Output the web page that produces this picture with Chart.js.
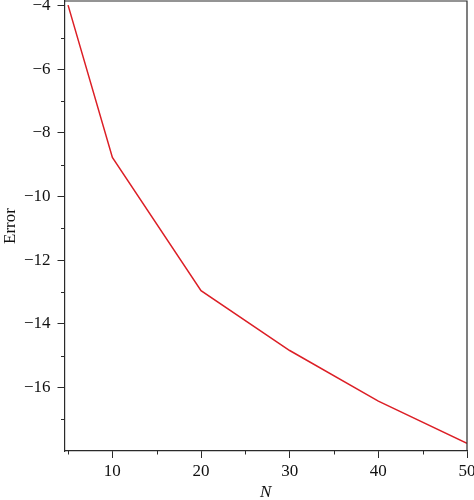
<!DOCTYPE html>
<html>
<head>
<meta charset="utf-8">
<script src="https://cdn.jsdelivr.net/npm/chart.js@4"></script>
<style>
html,body{margin:0;padding:0;background:#fff;}
#wrap{width:474px;height:500px;position:relative;}
</style>
</head>
<body>
<div id="wrap"><canvas id="c" width="474" height="500"></canvas></div>
<script>
const nValues = [5, 10, 20, 30, 40, 50];
const errorValues = [-3.98, -8.77, -12.96, -14.84, -16.43, -17.76];
const xMajorTicks = [10, 20, 30, 40, 50];
const xMinorTicks = [5, 15, 25, 35, 45];
const yMajorTicks = [-16, -14, -12, -10, -8, -6, -4];
const yMinorTicks = [-17, -15, -13, -11, -9, -7, -5];

const axisColor = '#2a2a2a';
const fontFam = '"Liberation Serif", "DejaVu Serif", serif';

const framePlugin = {
  id: 'frame',
  afterDraw(chart) {
    const {ctx, chartArea: a, scales} = chart;
    ctx.save();
    ctx.strokeStyle = axisColor;
    ctx.lineWidth = 1.2;
    ctx.beginPath();
    ctx.moveTo(a.left, a.top);
    ctx.lineTo(a.right, a.top);
    ctx.lineTo(a.right, a.bottom);
    ctx.stroke();
    ctx.lineWidth = 1;
    ctx.beginPath();
    xMinorTicks.forEach(v => {
      const px = Math.round(scales.x.getPixelForValue(v)) + 0.5;
      ctx.moveTo(px, a.bottom);
      ctx.lineTo(px, a.bottom + 3.5);
    });
    yMinorTicks.forEach(v => {
      const py = Math.round(scales.y.getPixelForValue(v)) + 0.5;
      ctx.moveTo(a.left, py);
      ctx.lineTo(a.left - 3.5, py);
    });
    ctx.stroke();
    ctx.restore();
  }
};

const fmt = v => (v < 0 ? '\u2212' + Math.abs(v) : String(v));

new Chart(document.getElementById('c'), {
  type: 'line',
  data: {
    datasets: [{
      data: nValues.map((n, i) => ({x: n, y: errorValues[i]})),
      borderColor: '#dc1f26',
      borderWidth: 1.5,
      pointRadius: 0,
      tension: 0,
      fill: false
    }]
  },
  options: {
    responsive: false,
    animation: false,
    layout: {padding: {left: 0, right: 7, top: 1, bottom: 0}},
    plugins: {legend: {display: false}, tooltip: {enabled: false}},
    scales: {
      x: {
        type: 'linear',
        min: 4.6,
        max: 50,
        afterBuildTicks(s) { s.ticks = xMajorTicks.map(v => ({value: v})); },
        afterFit(s) { s.height = 49; s.paddingLeft = 0; s.paddingRight = 0; },
        grid: {display: true, drawOnChartArea: false, drawTicks: true, tickLength: 7, tickColor: axisColor, tickWidth: 1},
        border: {display: true, color: axisColor, width: 1.2},
        ticks: {color: '#111', font: {family: fontFam, size: 17}, padding: 3, maxRotation: 0, autoSkip: false, callback: fmt},
        title: {display: true, text: 'N', color: '#111', font: {family: fontFam, size: 17, style: 'italic'}, padding: {top: 0, bottom: -3}}
      },
      y: {
        type: 'linear',
        min: -18,
        max: -3.85,
        afterBuildTicks(s) { s.ticks = yMajorTicks.map(v => ({value: v})); },
        afterFit(s) { s.width = 64.5; s.paddingTop = 0; s.paddingBottom = 0; },
        grid: {display: true, drawOnChartArea: false, drawTicks: true, tickLength: 7, tickColor: axisColor, tickWidth: 1},
        border: {display: true, color: axisColor, width: 1.2},
        ticks: {color: '#111', font: {family: fontFam, size: 17}, padding: 7, autoSkip: false, callback: fmt},
        title: {display: true, text: 'Error', color: '#111', font: {family: fontFam, size: 17}, padding: {top: 0, bottom: 0}}
      }
    }
  },
  plugins: [framePlugin]
});
</script>
</body>
</html>
